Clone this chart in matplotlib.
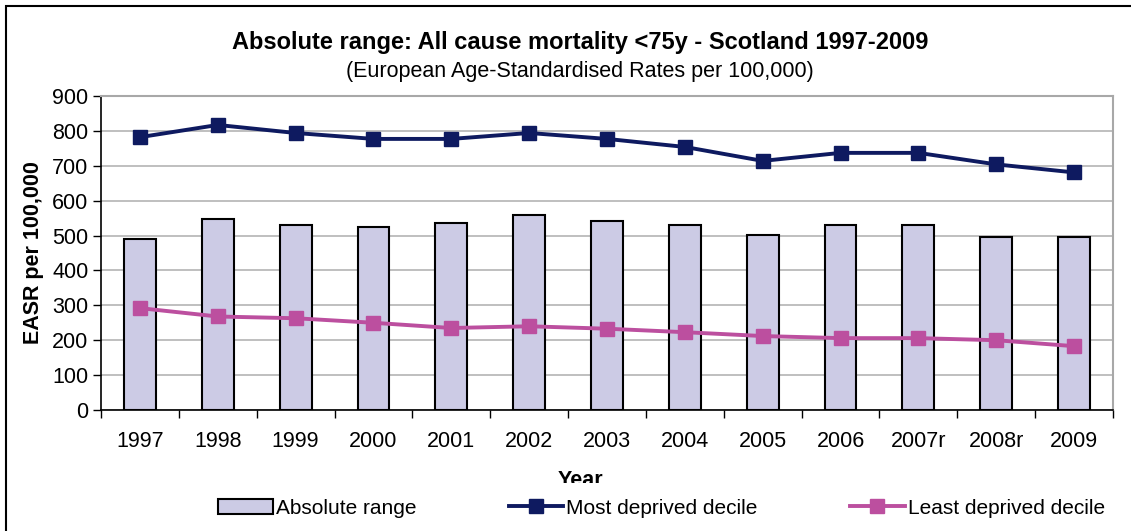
import matplotlib.pyplot as plt
from matplotlib.patches import Rectangle
import numpy as np

plt.rcParams['font.family'] = ['Liberation Sans', 'DejaVu Sans']

years = ["1997", "1998", "1999", "2000", "2001", "2002", "2003",
         "2004", "2005", "2006", "2007r", "2008r", "2009"]
most_deprived = [782, 817, 794, 777, 777, 794, 777, 754, 714, 737, 737, 704, 681]
least_deprived = [292, 268, 263, 250, 235, 240, 233, 223, 212, 206, 206, 200, 183]
abs_range = [490, 548, 530, 525, 536, 558, 542, 530, 501, 530, 530, 497, 497]

navy = "#0E1A60"
pink = "#BC4F9F"
bar_col = "#CCCBE5"

fig = plt.figure(figsize=(11.31, 5.31), dpi=100)
ax = fig.add_axes([101 / 1131, 121 / 531, 1012 / 1131, 314 / 531])

x = np.arange(len(years))
bars = ax.bar(x, abs_range, width=0.41, color=bar_col, edgecolor="black", linewidth=1.5,
              label="Absolute range", zorder=2)
l1, = ax.plot(x, most_deprived, color=navy, lw=2.8, marker="s", ms=10,
              label="Most deprived decile", zorder=3)
l2, = ax.plot(x, least_deprived, color=pink, lw=2.8, marker="s", ms=10,
              label="Least deprived decile", zorder=3)

ax.set_xlim(-0.5, len(years) - 0.5)
ax.set_ylim(0, 900)
ax.set_yticks(range(0, 901, 100))
ax.yaxis.grid(True, color="#B4B4B4", lw=1.2, zorder=0)
ax.set_axisbelow(True)

# category boundaries get tick marks, centres get the labels
ax.set_xticks(np.arange(-0.5, len(years), 1.0))
ax.set_xticklabels([])
ax.set_xticks(x, minor=True)
ax.set_xticklabels(years, minor=True)
ax.tick_params(axis="x", which="major", length=6, width=1, color="black")
ax.tick_params(axis="x", which="minor", length=0, pad=15, labelsize=15.5)
ax.tick_params(axis="y", length=6, width=1, labelsize=15.5, pad=3)

for s in ["top", "right"]:
    ax.spines[s].set_color("#A8A8A8")
    ax.spines[s].set_linewidth(1.5)
for s in ["left", "bottom"]:
    ax.spines[s].set_color("black")
    ax.spines[s].set_linewidth(1.2)

ax.set_ylabel("EASR per 100,000", fontsize=15.5, fontweight="bold", labelpad=6)

fig.text(0.513, 1 - 43 / 531, "Absolute range: All cause mortality <75y - Scotland 1997-2009",
         ha="center", va="center", fontsize=17, fontweight="bold")
fig.text(0.513, 1 - 72 / 531, "(European Age-Standardised Rates per 100,000)",
         ha="center", va="center", fontsize=15.5)

fig.text(0.513, 1 - 480 / 531, "Year", ha="center", va="center",
         fontsize=15.5, fontweight="bold", zorder=1)
# the legend area hides the lower part of the axis title
fig.patches.append(Rectangle((0.01, 0.0), 0.98, 1 - 483 / 531, transform=fig.transFigure,
                             facecolor="white", edgecolor="none", zorder=2))

leg = fig.legend([bars, l1, l2], ["Absolute range", "Most deprived decile", "Least deprived decile"],
                 loc="center", bbox_to_anchor=(0.585, 1 - 508 / 531), ncol=3,
                 frameon=False, fontsize=15, handlelength=2.6, handletextpad=0.15,
                 columnspacing=4.45, borderaxespad=0)
leg.set_zorder(5)

# outer chart border
fig.patches.append(Rectangle((6 / 1131, -0.01), 1.2, 1 - 6 / 531 + 0.01,
                             transform=fig.transFigure, facecolor="none",
                             edgecolor="black", lw=1.5, zorder=6))

fig.savefig("out.png", dpi=100)
